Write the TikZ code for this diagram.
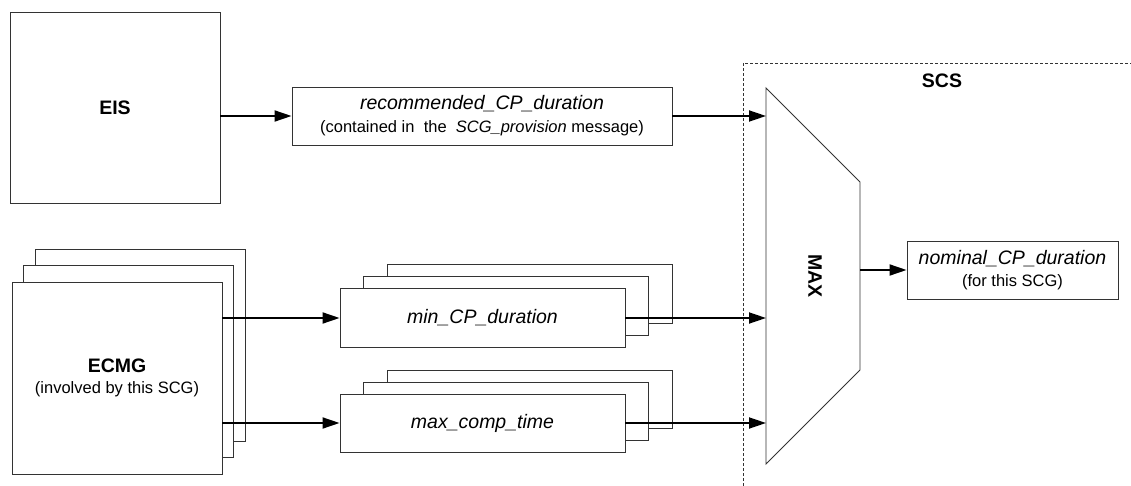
\documentclass[tikz,border=0pt]{standalone}
\usepackage{fontspec}
\setmainfont{Liberation Sans}
\usepackage{tikz}
\usetikzlibrary{arrows.meta,shadows}
\definecolor{edge}{HTML}{333333}
\newcommand{\fbig}{\fontsize{19.5}{22}\selectfont}
\newcommand{\fsmall}{\fontsize{16.5}{19}\selectfont}

\begin{document}
\begin{tikzpicture}[
  x=1pt,y=-1pt,
  box/.style={draw=edge,fill=white,line width=.9pt,inner sep=0pt,align=center,font=\fbig},
  stackbig/.style={copy shadow={shadow xshift=23pt,shadow yshift=33pt,draw=edge,fill=white},
    copy shadow={shadow xshift=11.5pt,shadow yshift=16.5pt,draw=edge,fill=white}},
  stacksmall/.style={copy shadow={shadow xshift=47pt,shadow yshift=24pt,draw=edge,fill=white},
    copy shadow={shadow xshift=23.5pt,shadow yshift=12pt,draw=edge,fill=white}},
  arr/.style={-{Triangle[length=17pt,width=11pt]},draw=black,line width=1.8pt}
]
\useasboundingbox (0,0) rectangle (1131,486);
% SCS region
\draw[edge,line width=.8pt,dash pattern=on 3pt off 2pt] (743,486) -- (743,63) -- (1131,63);
\node[font=\fbig\bfseries] (scs) at (942,81) {SCS};
% sources
\node[box,minimum width=210pt,minimum height=191pt] (eis) at (115,107.5) {\bfseries EIS};
\node[box,minimum width=380pt,minimum height=58pt] (rec) at (482,116)
  {\itshape recommended\_CP\_duration\\[1pt]
   \fsmall(contained in \ the \ \itshape SCG\_provision\upshape\ message)};
\node[box,stackbig,minimum width=210pt,minimum height=192pt] (ecmg) at (117,378)
  {\bfseries ECMG\\[-1pt]\fsmall(involved by this SCG)};
\node[box,stacksmall,minimum width=285pt,minimum height=59pt] (mincp) at (482.5,318)
  {\itshape min\_CP\_duration};
\node[box,stacksmall,minimum width=285pt,minimum height=58pt] (maxcomp) at (482.5,423)
  {\itshape max\_comp\_time};
% MAX
\coordinate (maxin) at (766,276);
\coordinate (maxout) at (860,276);
\draw[edge,line width=.9pt,fill=white] (766,88) -- (860,182) -- (860,370) -- (766,464) -- cycle;
\node[font=\fbig\bfseries,rotate=-90] (max) at (815,276) {MAX};
\node[box,minimum width=211pt,minimum height=58pt] (nom) at (1012.5,270)
  {\itshape nominal\_CP\_duration\\[0pt]\fsmall(for this SCG)};
% connectors
\draw[arr] (eis.east |- rec.west) -- (rec.west);
\draw[arr] (ecmg.east |- mincp.west) -- (mincp.west);
\draw[arr] (ecmg.east |- maxcomp.west) -- (maxcomp.west);
\draw[arr] (rec.east) -- (rec.east -| maxin);
\draw[arr] (mincp.east) -- (mincp.east -| maxin);
\draw[arr] (maxcomp.east) -- (maxcomp.east -| maxin);
\draw[arr] (maxout |- nom.west) -- (nom.west);
\end{tikzpicture}
\end{document}
